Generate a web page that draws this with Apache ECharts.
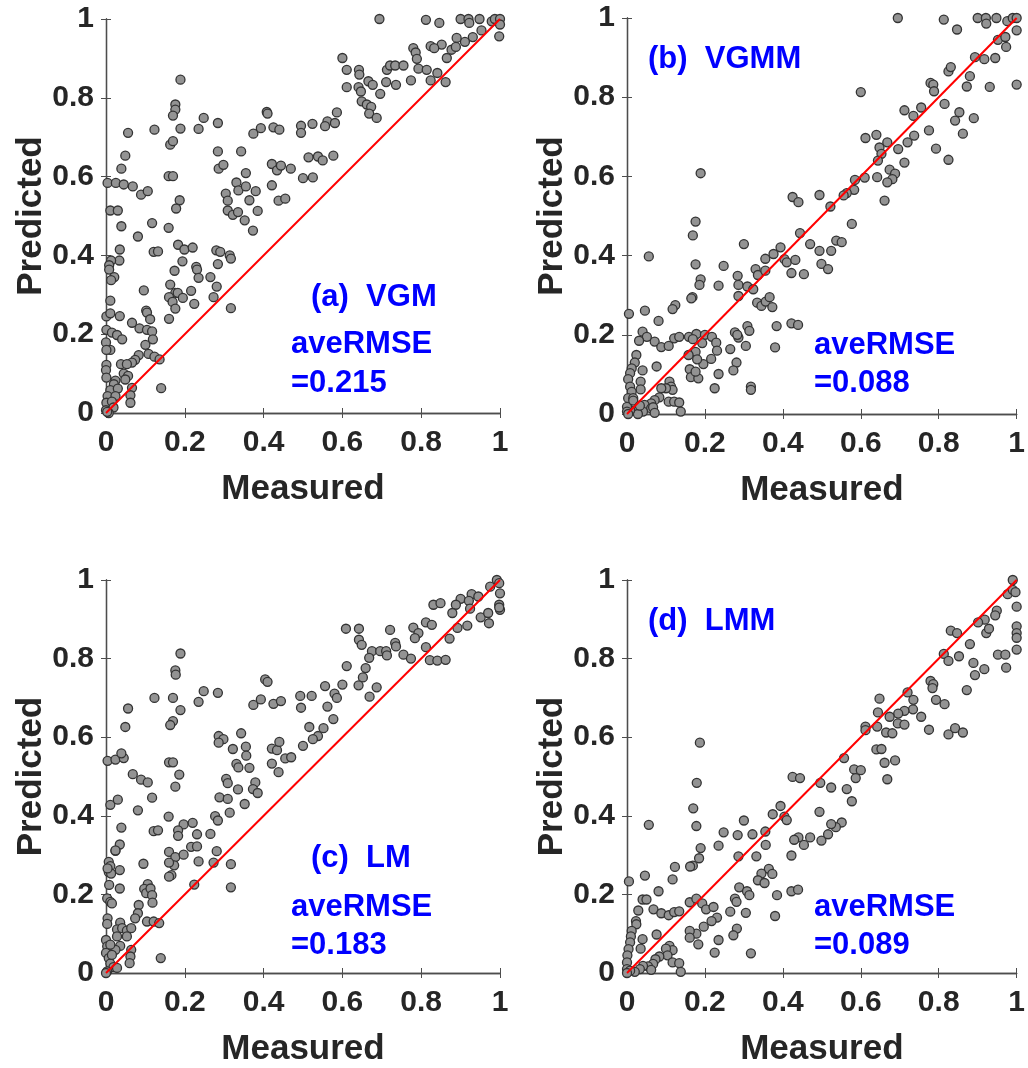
<!DOCTYPE html>
<html>
<head>
<meta charset="utf-8">
<title>Measured vs Predicted</title>
<script src="https://cdn.jsdelivr.net/npm/echarts@6/dist/echarts.min.js"></script>
<style>
  html, body { margin: 0; padding: 0; background: #fff; }
  #main { width: 1028px; height: 1068px; }
</style>
</head>
<body>
<div id="main"></div>
<script>
// axis ticks shared by every panel
const ticks = [0, 0.2, 0.4, 0.6, 0.8, 1];
const diag = [[0, 0], [1, 1]];

const panelTitles = ['(a)  VGM', '(b)  VGMM', '(c)  LM', '(d)  LMM'];
const rmseValues = ['=0.215', '=0.088', '=0.183', '=0.089'];

// [measured, predicted]
const vgm = [
  [0.694,1.0],[0.812,0.998],[0.846,0.99],[0.900,1.0],[0.920,1.0],[0.922,0.99],[0.948,1.0],[0.979,0.994],[0.987,1.0],[1.0,1.0],
  [1.0,0.986],[0.998,0.956],[0.953,0.971],[0.931,0.954],[0.911,0.942],[0.890,0.952],[0.865,0.901],[0.877,0.922],[0.888,0.929],[0.852,0.935],
  [0.824,0.931],[0.833,0.926],[0.780,0.926],[0.786,0.915],[0.789,0.899],[0.793,0.874],[0.814,0.871],[0.841,0.863],[0.774,0.844],[0.824,0.844],
  [0.862,0.840],[0.713,0.871],[0.721,0.882],[0.734,0.882],[0.755,0.882],[0.711,0.840],[0.736,0.833],[0.696,0.810],[0.600,0.901],[0.611,0.871],
  [0.642,0.871],[0.643,0.859],[0.611,0.827],[0.641,0.827],[0.647,0.816],[0.666,0.842],[0.677,0.833],[0.649,0.791],[0.662,0.783],[0.673,0.777],
  [0.668,0.760],[0.687,0.749],[0.586,0.763],[0.562,0.740],[0.556,0.728],[0.581,0.736],[0.524,0.734],[0.495,0.729],[0.495,0.711],[0.408,0.764],
  [0.410,0.760],[0.393,0.723],[0.374,0.709],[0.425,0.725],[0.440,0.719],[0.284,0.736],[0.248,0.749],[0.235,0.721],[0.189,0.846],[0.176,0.783],
  [0.176,0.770],[0.170,0.755],[0.189,0.722],[0.123,0.719],[0.056,0.711],[0.163,0.681],[0.170,0.690],[0.049,0.653],[0.039,0.620],[0.159,0.601],
  [0.170,0.601],[0.004,0.584],[0.025,0.584],[0.045,0.580],[0.068,0.575],[0.089,0.554],[0.106,0.563],[0.187,0.540],[0.178,0.519],[0.011,0.514],
  [0.030,0.514],[0.039,0.474],[0.117,0.482],[0.081,0.448],[0.159,0.470],
  [0.284,0.664],[0.286,0.620],[0.298,0.630],[0.343,0.664],[0.355,0.609],[0.331,0.585],[0.336,0.565],[0.355,0.575],[0.304,0.557],[0.309,0.539],
  [0.380,0.563],[0.364,0.540],[0.309,0.514],[0.322,0.503],[0.335,0.510],[0.352,0.489],[0.385,0.513],[0.373,0.463],[0.421,0.632],[0.434,0.616],
  [0.444,0.628],[0.469,0.620],[0.421,0.578],[0.438,0.539],[0.455,0.544],[0.500,0.596],[0.525,0.598],[0.514,0.649],[0.538,0.651],[0.550,0.641],
  [0.577,0.653],
  [0.035,0.415],[0.034,0.387],[0.013,0.387],[0.008,0.375],[0.008,0.364],[0.021,0.345],[0.013,0.337],[0.121,0.409],[0.132,0.410],[0.183,0.427],
  [0.199,0.415],[0.220,0.420],[0.194,0.385],[0.174,0.361],[0.229,0.371],[0.231,0.364],[0.235,0.343],[0.265,0.345],[0.280,0.413],[0.290,0.409],
  [0.284,0.378],[0.314,0.400],[0.317,0.392],[0.281,0.321],[0.273,0.294],[0.317,0.266],[0.163,0.326],[0.216,0.310],[0.176,0.305],[0.182,0.305],
  [0.160,0.294],[0.169,0.282],[0.176,0.265],[0.195,0.292],[0.224,0.277],[0.160,0.239],[0.096,0.311],
  [0.011,0.285],[0.001,0.245],[0.011,0.253],[0.035,0.246],[0.066,0.229],[0.102,0.260],[0.104,0.255],[0.112,0.238],[0.001,0.211],[0.015,0.204],
  [0.028,0.198],[0.041,0.187],[0.000,0.179],[0.011,0.160],[0.001,0.160],[0.085,0.215],[0.104,0.211],[0.117,0.207],[0.119,0.187],[0.100,0.173],
  [0.108,0.150],[0.123,0.143],[0.136,0.136],[0.083,0.147],[0.074,0.135],[0.066,0.128],[0.038,0.124],[0.053,0.124],[0.001,0.122],[0.000,0.109],
  [0.001,0.090],[0.024,0.082],[0.045,0.100],[0.056,0.094],[0.049,0.085],[0.020,0.073],[0.011,0.058],[0.004,0.043],[0.001,0.026],[0.000,0.007],
  [0.030,0.062],[0.024,0.043],[0.015,0.029],[0.019,0.014],[0.066,0.064],[0.062,0.045],[0.062,0.026],[0.140,0.063],[0.007,0.0],[0.003,0.003]
];

const vgmm = [
  [0.695,1.0],[0.813,0.996],[0.847,0.971],[0.900,1.0],[0.921,1.0],[0.922,0.986],[0.948,1.0],[0.976,0.992],[0.990,1.0],[1.0,1.0],
  [1.0,0.969],[1.0,0.832],[0.952,0.945],[0.971,0.952],[0.973,0.927],[0.893,0.901],[0.917,0.896],[0.945,0.899],[0.825,0.865],[0.831,0.876],
  [0.880,0.853],[0.872,0.827],[0.931,0.826],[0.779,0.836],[0.786,0.832],[0.788,0.815],[0.600,0.813],[0.815,0.783],[0.712,0.767],[0.735,0.753],
  [0.755,0.774],[0.842,0.741],[0.853,0.762],[0.890,0.747],[0.862,0.708],[0.775,0.716],[0.737,0.703],[0.720,0.686],[0.793,0.670],[0.825,0.642],
  [0.696,0.669],[0.712,0.635],[0.640,0.705],[0.612,0.697],[0.648,0.673],[0.668,0.686],[0.653,0.657],[0.644,0.640],[0.674,0.617],[0.688,0.607],
  [0.681,0.593],[0.668,0.585],[0.642,0.598],[0.610,0.597],[0.661,0.539],[0.585,0.591],[0.583,0.566],[0.564,0.558],[0.556,0.552],[0.494,0.553],
  [0.522,0.524],[0.425,0.548],[0.440,0.535],[0.444,0.457],[0.577,0.480],[0.470,0.429],[0.494,0.412],[0.524,0.412],[0.537,0.438],[0.551,0.434],
  [0.499,0.379],[0.516,0.366],[0.394,0.421],[0.376,0.404],[0.355,0.392],[0.404,0.391],[0.410,0.383],[0.432,0.389],[0.422,0.356],[0.454,0.353],
  [0.300,0.429],[0.248,0.374],[0.330,0.366],[0.336,0.351],[0.355,0.362],[0.284,0.349],[0.286,0.326],[0.286,0.298],[0.309,0.322],[0.324,0.315],
  [0.334,0.281],[0.345,0.273],[0.356,0.284],[0.366,0.295],[0.373,0.270],[0.384,0.222],[0.422,0.229],[0.439,0.225],[0.380,0.168],[0.309,0.222],
  [0.314,0.210],[0.277,0.206],[0.286,0.193],[0.283,0.200],[0.265,0.164],[0.305,0.172],[0.281,0.130],[0.273,0.110],[0.318,0.069],[0.318,0.061],
  [0.225,0.065],[0.235,0.101],[0.216,0.139],[0.196,0.126],[0.235,0.324],[0.189,0.608],[0.176,0.486],[0.169,0.451],[0.176,0.378],[0.189,0.340],
  [0.186,0.326],[0.168,0.295],[0.165,0.292],[0.124,0.275],[0.117,0.265],[0.081,0.235],[0.046,0.261],[0.005,0.253],[0.056,0.398],
  [0.040,0.208],[0.051,0.195],[0.031,0.185],[0.071,0.183],[0.088,0.169],[0.107,0.172],[0.121,0.191],[0.134,0.195],[0.159,0.195],[0.178,0.202],
  [0.169,0.189],[0.200,0.200],[0.218,0.195],[0.229,0.180],[0.231,0.160],[0.193,0.179],[0.176,0.157],[0.158,0.149],[0.180,0.138],[0.161,0.113],
  [0.164,0.093],[0.183,0.090],[0.176,0.107],[0.076,0.120],[0.024,0.149],[0.020,0.130],[0.012,0.115],[0.008,0.103],[0.003,0.088],[0.040,0.110],
  [0.035,0.082],[0.035,0.062],[0.008,0.069],[0.012,0.056],[0.003,0.040],[0.016,0.040],[0.109,0.082],[0.113,0.069],[0.117,0.061],[0.100,0.065],
  [0.088,0.065],[0.083,0.042],[0.071,0.035],[0.062,0.027],[0.107,0.031],[0.121,0.031],[0.134,0.029],[0.138,0.006],[0.045,0.023],[0.062,0.014],
  [0.041,0.006],[0.024,0.010],[0.028,0.0],[0.008,0.010],[0.0,0.018],[0.0,0.006],[0.003,0.0],[0.016,0.034],[0.033,0.021],[0.067,0.017],
  [0.071,0.003]
];

const lm = [
  [0.992,1.0],[0.998,0.992],[0.975,0.983],[1.0,0.966],[0.998,0.937],[1.0,0.924],[0.998,0.930],[0.928,0.964],[0.945,0.958],[0.900,0.952],
  [0.921,0.947],[0.888,0.937],[0.831,0.937],[0.849,0.941],[0.879,0.916],[0.924,0.927],[0.951,0.905],[0.970,0.916],[0.972,0.890],[0.917,0.884],
  [0.892,0.878],[0.872,0.851],[0.812,0.892],[0.827,0.886],[0.780,0.879],[0.793,0.865],[0.784,0.852],[0.812,0.829],[0.822,0.796],[0.841,0.795],
  [0.862,0.797],[0.721,0.873],[0.642,0.876],[0.642,0.848],[0.649,0.835],[0.609,0.876],[0.675,0.819],[0.696,0.819],[0.711,0.819],[0.713,0.808],
  [0.668,0.802],[0.734,0.840],[0.736,0.831],[0.755,0.810],[0.774,0.800],[0.611,0.781],[0.659,0.776],[0.652,0.752],[0.641,0.732],[0.687,0.727],
  [0.669,0.703],[0.600,0.734],[0.556,0.730],[0.580,0.711],[0.586,0.700],[0.562,0.678],[0.577,0.646],[0.552,0.623],[0.538,0.603],[0.525,0.595],
  [0.516,0.626],[0.493,0.705],[0.522,0.705],[0.495,0.675],[0.500,0.578],[0.404,0.747],[0.410,0.741],[0.374,0.682],[0.393,0.696],[0.425,0.685],
  [0.444,0.692],[0.284,0.713],[0.248,0.717],[0.235,0.690],[0.189,0.813],[0.176,0.770],[0.177,0.759],[0.170,0.700],[0.123,0.700],[0.189,0.669],
  [0.170,0.641],[0.163,0.631],[0.056,0.673],[0.049,0.626],[0.343,0.610],[0.286,0.603],[0.298,0.595],[0.286,0.586],[0.322,0.570],[0.355,0.576],
  [0.356,0.553],[0.364,0.522],[0.331,0.532],[0.336,0.523],[0.421,0.571],[0.434,0.567],[0.440,0.588],[0.421,0.533],[0.438,0.511],[0.455,0.546],
  [0.470,0.549],[0.305,0.494],[0.309,0.483],[0.379,0.485],[0.373,0.468],[0.385,0.458],[0.335,0.467],[0.288,0.447],[0.309,0.443],[0.352,0.430],
  [0.314,0.408],[0.277,0.399],[0.284,0.388],[0.265,0.354],[0.231,0.353],[0.197,0.378],[0.220,0.382],[0.183,0.363],[0.183,0.349],[0.121,0.361],
  [0.132,0.363],[0.159,0.398],[0.081,0.414],[0.176,0.474],[0.186,0.505],[0.160,0.536],[0.170,0.536],[0.117,0.446],[0.068,0.506],[0.089,0.492],
  [0.106,0.485],[0.004,0.540],[0.024,0.543],[0.045,0.547],[0.039,0.559],[0.011,0.428],[0.030,0.441],[0.039,0.370],[0.035,0.327],[0.024,0.311],
  [0.007,0.283],[0.011,0.272],[0.007,0.257],[0.013,0.253],[0.035,0.262],[0.008,0.224],[0.035,0.215],[0.095,0.278],[0.160,0.308],[0.176,0.295],
  [0.173,0.274],[0.160,0.281],[0.197,0.301],[0.166,0.249],[0.160,0.245],[0.216,0.321],[0.231,0.322],[0.235,0.284],[0.273,0.281],[0.281,0.310],
  [0.224,0.225],[0.317,0.277],[0.317,0.218],[0.106,0.226],[0.097,0.214],[0.102,0.203],[0.113,0.215],[0.117,0.198],[0.118,0.179],[0.083,0.173],
  [0.081,0.152],[0.074,0.139],[0.104,0.131],[0.121,0.131],[0.135,0.127],[0.139,0.038],[0.003,0.190],[0.011,0.181],[0.015,0.177],[0.004,0.139],
  [0.003,0.125],[0.036,0.128],[0.028,0.111],[0.041,0.114],[0.053,0.108],[0.064,0.114],[0.053,0.093],[0.000,0.084],[0.003,0.068],[0.0,0.051],
  [0.007,0.038],[0.011,0.024],[0.019,0.015],[0.003,0.004],[0.0,0.0],[0.028,0.093],[0.036,0.069],[0.024,0.059],[0.015,0.046],[0.011,0.072],
  [0.064,0.059],[0.062,0.042],[0.060,0.025],[0.028,0.013],[0.004,0.266],[0.024,0.312]
];

const lmm = [
  [0.990,1.0],[0.977,0.964],[0.990,0.975],[0.997,0.969],[1.0,0.932],[0.949,0.922],[0.945,0.910],[0.918,0.899],[0.922,0.865],[0.929,0.876],
  [0.901,0.892],[1.0,0.882],[1.0,0.865],[1.0,0.853],[1.0,0.823],[0.831,0.871],[0.847,0.865],[0.880,0.837],[0.813,0.812],[0.825,0.794],
  [0.852,0.806],[0.889,0.789],[0.893,0.758],[0.917,0.773],[0.872,0.720],[0.952,0.810],[0.971,0.810],[0.973,0.777],[0.779,0.743],[0.786,0.735],
  [0.784,0.725],[0.793,0.695],[0.815,0.684],[0.720,0.714],[0.735,0.695],[0.734,0.671],[0.712,0.667],[0.696,0.660],[0.695,0.635],[0.712,0.632],
  [0.755,0.652],[0.775,0.619],[0.825,0.607],[0.842,0.623],[0.862,0.612],[0.648,0.698],[0.644,0.663],[0.642,0.627],[0.674,0.652],[0.665,0.612],
  [0.681,0.610],[0.612,0.627],[0.612,0.618],[0.640,0.569],[0.653,0.570],[0.661,0.535],[0.688,0.541],[0.668,0.493],[0.557,0.547],[0.583,0.518],
  [0.600,0.516],[0.587,0.496],[0.564,0.468],[0.577,0.437],[0.496,0.484],[0.524,0.472],[0.425,0.499],[0.444,0.496],[0.494,0.410],[0.499,0.337],
  [0.551,0.383],[0.536,0.371],[0.524,0.379],[0.516,0.353],[0.470,0.345],[0.454,0.326],[0.440,0.345],[0.429,0.339],[0.422,0.299],[0.394,0.425],
  [0.374,0.404],[0.404,0.398],[0.410,0.389],[0.355,0.360],[0.356,0.326],[0.332,0.297],[0.322,0.353],[0.300,0.388],[0.284,0.351],[0.286,0.297],
  [0.364,0.265],[0.373,0.252],[0.345,0.253],[0.336,0.236],[0.353,0.229],[0.385,0.198],[0.380,0.145],[0.422,0.208],[0.439,0.212],[0.288,0.218],
  [0.308,0.208],[0.314,0.198],[0.305,0.153],[0.277,0.189],[0.281,0.181],[0.265,0.156],[0.282,0.113],[0.273,0.096],[0.318,0.050],[0.225,0.052],
  [0.235,0.084],[0.248,0.358],[0.235,0.324],[0.187,0.586],[0.179,0.484],[0.170,0.419],[0.178,0.374],[0.189,0.318],[0.185,0.292],[0.169,0.273],
  [0.162,0.271],[0.123,0.270],[0.117,0.238],[0.046,0.248],[0.005,0.233],[0.056,0.377],[0.081,0.208],
  [0.040,0.187],[0.050,0.187],[0.029,0.159],[0.068,0.162],[0.088,0.152],[0.107,0.147],[0.121,0.155],[0.134,0.157],[0.161,0.180],[0.178,0.189],
  [0.193,0.177],[0.203,0.162],[0.222,0.168],[0.231,0.141],[0.217,0.132],[0.197,0.118],[0.178,0.100],[0.161,0.107],[0.161,0.090],[0.183,0.073],
  [0.076,0.098],[0.023,0.132],[0.024,0.124],[0.012,0.107],[0.010,0.093],[0.008,0.078],[0.004,0.061],[0.001,0.045],[0.0,0.027],[0.0,0.010],
  [0.040,0.086],[0.035,0.062],[0.109,0.069],[0.117,0.058],[0.100,0.062],[0.104,0.045],[0.117,0.027],[0.134,0.025],[0.083,0.042],[0.073,0.035],
  [0.067,0.023],[0.054,0.017],[0.062,0.008],[0.041,0.018],[0.033,0.010],[0.020,0.003],[0.008,0.006],[0.0,0.0],[0.138,0.003]
];

const panels = [vgm, vgmm, lm, lmm];

// plot boxes (px)
const boxes = [
  { left: 106, top: 19, width: 394, height: 394 },
  { left: 627, top: 18, width: 395, height: 396 },
  { left: 106, top: 580, width: 394, height: 395 },
  { left: 627, top: 580, width: 395, height: 396 }
];

const FONT = 'Liberation Sans, Arial, sans-serif';
const INK = '#262626';
const BOX = '#4d4d4d';

let myChart = echarts.init(document.getElementById('main'), null, { renderer: 'canvas' });

const grid = [], xAxis = [], yAxis = [], series = [], graphic = [];

function axisBase(extra) {
  return Object.assign({
    type: 'value',
    min: ticks[0],
    max: ticks[ticks.length - 1],
    interval: ticks[1] - ticks[0],
    splitLine: { show: false },
    axisLine: { show: true, lineStyle: { color: BOX, width: 1.3 } },
    axisTick: { show: true, inside: true, length: 5, lineStyle: { color: BOX, width: 1 } }
  }, extra);
}

boxes.forEach(function (b, i) {
  grid.push(Object.assign({ containLabel: false }, b));

  xAxis.push(axisBase({
    gridIndex: i, position: 'bottom',
    name: 'Measured', nameLocation: 'middle', nameGap: 59,
    nameTextStyle: { fontFamily: FONT, fontWeight: 'bold', fontSize: 35, color: INK },
    axisLabel: { margin: 15, fontFamily: FONT, fontWeight: 'bold', fontSize: 30, color: INK }
  }));
  xAxis.push(axisBase({ gridIndex: i, position: 'top', axisLabel: { show: false } }));

  yAxis.push(axisBase({
    gridIndex: i, position: 'left',
    name: 'Predicted', nameLocation: 'middle', nameGap: 56, nameRotate: 90,
    nameTextStyle: { fontFamily: FONT, fontWeight: 'bold', fontSize: 35, color: INK },
    axisLabel: { margin: 12, fontFamily: FONT, fontWeight: 'bold', fontSize: 30, color: INK }
  }));
  yAxis.push(axisBase({ gridIndex: i, position: 'right', axisLabel: { show: false } }));

  series.push({
    type: 'scatter',
    xAxisIndex: 2 * i, yAxisIndex: 2 * i,
    data: panels[i],
    symbol: 'circle', symbolSize: 9,
    clip: false,
    itemStyle: { color: '#939393', borderColor: '#333', borderWidth: 1.3, opacity: 1 },
    z: 2
  });
  series.push({
    type: 'line',
    xAxisIndex: 2 * i, yAxisIndex: 2 * i,
    data: diag,
    symbol: 'none',
    lineStyle: { color: '#ff0000', width: 2 },
    z: 3
  });
});

// blue annotations
const notePos = [
  { t: [311, 297], r: [291, 344], v: [291, 383] },
  { t: [648, 59], r: [814, 345], v: [814, 383] },
  { t: [311, 858], r: [291, 907], v: [291, 945] },
  { t: [648, 621], r: [814, 907], v: [814, 945] }
];
function note(text, p) {
  return {
    type: 'text', x: p[0], y: p[1], z: 10,
    style: {
      text: text, fill: '#0000ff',
      font: 'bold 31px ' + FONT,
      textVerticalAlign: 'middle', verticalAlign: 'middle'
    }
  };
}
notePos.forEach(function (p, i) {
  graphic.push(note(panelTitles[i], p.t));
  graphic.push(note('aveRMSE', p.r));
  graphic.push(note(rmseValues[i], p.v));
});

let option = {
  backgroundColor: '#ffffff',
  animation: false,
  grid: grid,
  xAxis: xAxis,
  yAxis: yAxis,
  series: series,
  graphic: graphic
};

myChart.setOption(option);
</script>
</body>
</html>
